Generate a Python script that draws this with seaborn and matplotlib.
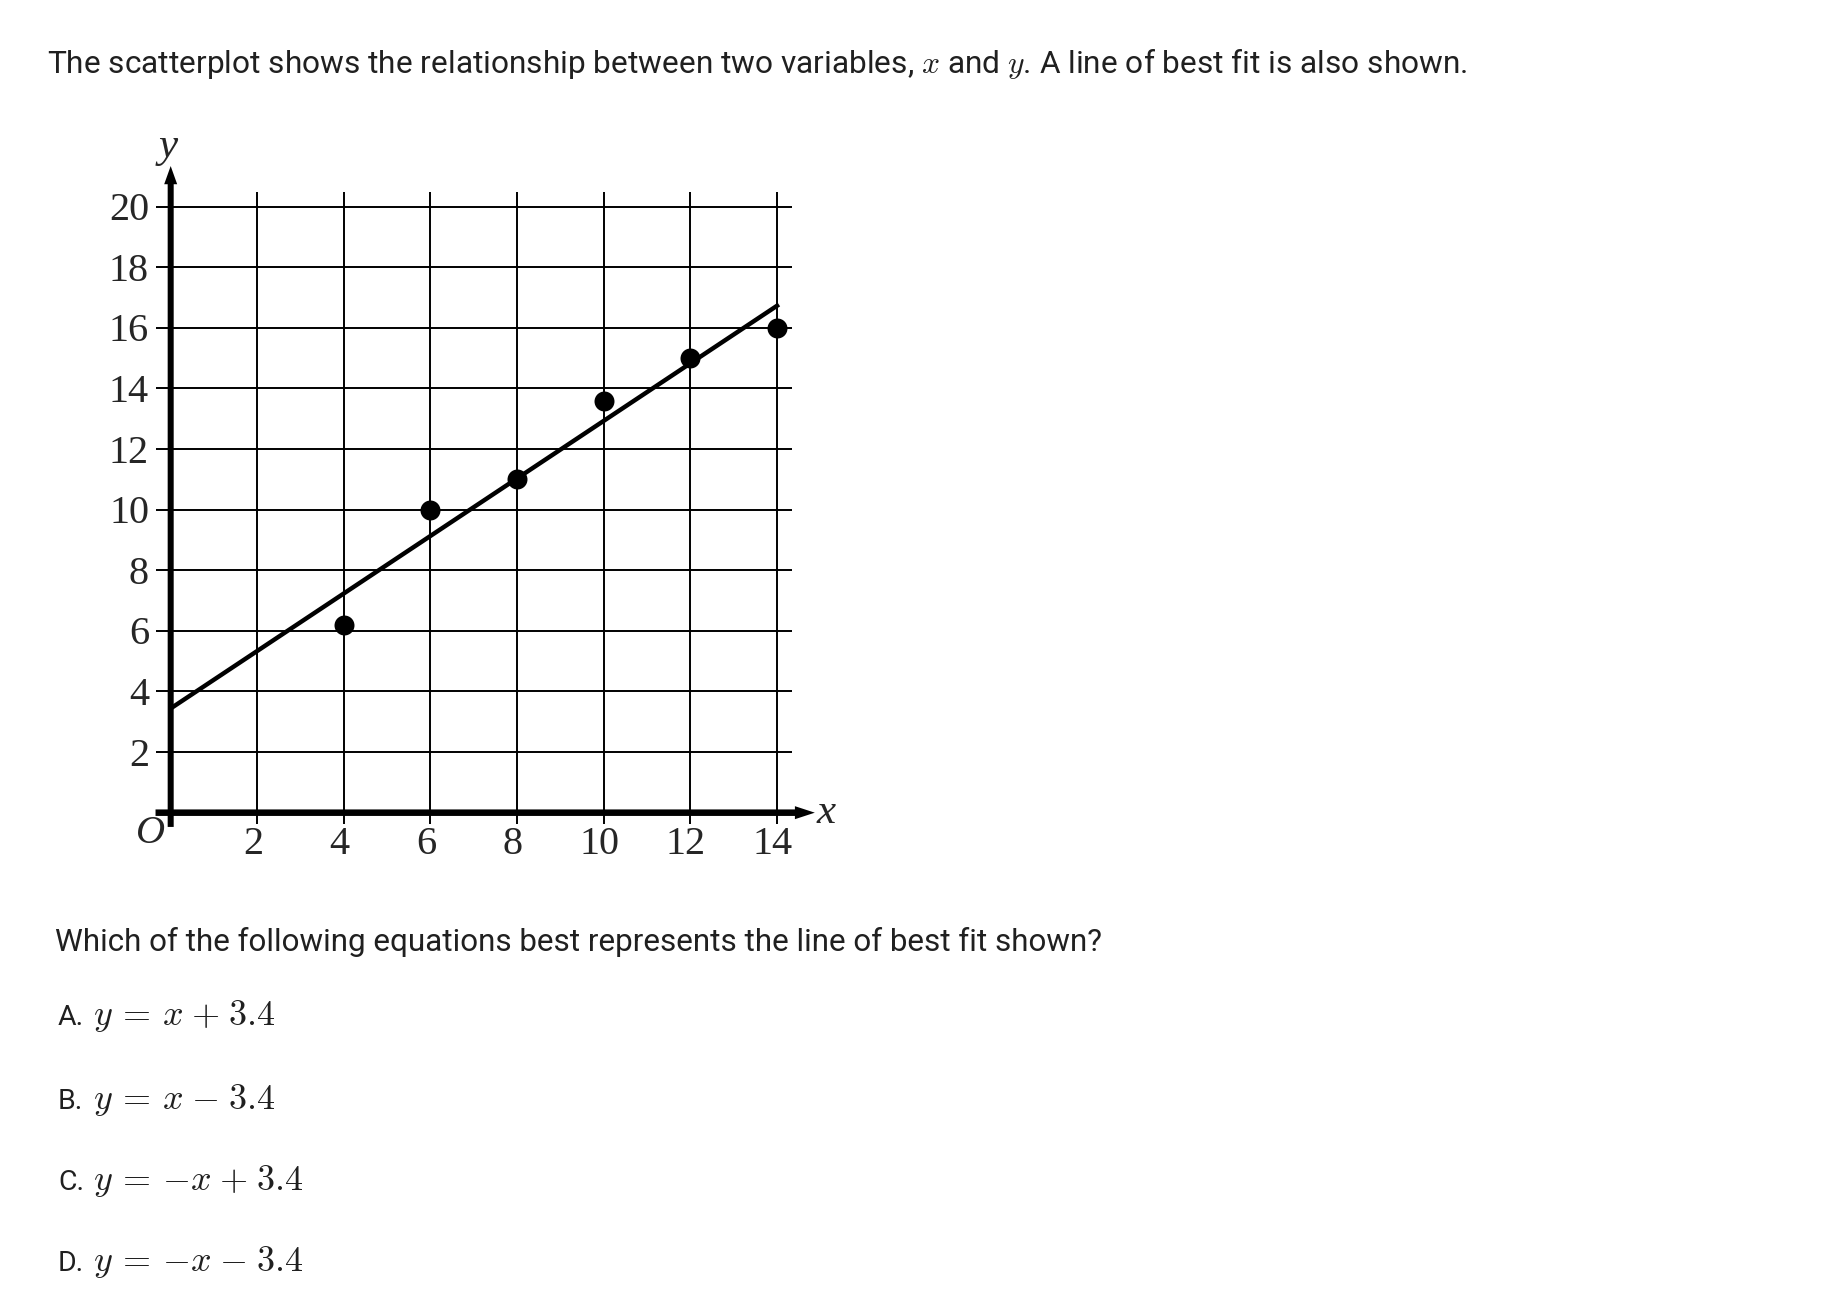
import numpy as np
import pandas as pd
import seaborn as sns
import matplotlib.pyplot as plt

# data
x_pts = [4, 6, 8, 10, 12, 14]
y_pts = [6.2, 10, 11, 13.6, 15, 16]

# line of best fit as drawn (its two ends)
fit_x = [0, 14.05]
fit_y = [3.44, 16.77]

x_ticks = [2, 4, 6, 8, 10, 12, 14]
y_ticks = [2, 4, 6, 8, 10, 12, 14, 16, 18, 20]

title = ('The scatterplot shows the relationship between two variables, '
         '$x$ and $y$. A line of best fit is also shown.')
question = 'Which of the following equations best represents the line of best fit shown?'
opt_letters = ['A.', 'B.', 'C.', 'D.']
# braces keep mathtext from adding its own operator spacing
opt_math = [r'$y\,{=}\,x\;{+}\;3.4$', r'$y\,{=}\,x\;{-}\;3.4$',
            r'$y\,{=}\,{-}x\;{+}\;3.4$', r'$y\,{=}\,{-}x\;{-}\;3.4$']

sns.set_theme(style='white')
plt.rcParams['font.family'] = ['Roboto', 'DejaVu Sans']
plt.rcParams['mathtext.fontset'] = 'cm'

W, H = 1836, 1304
fig = plt.figure(figsize=(W / 100, H / 100), dpi=100)
fig.patch.set_facecolor('white')

# axes placed so that data 0..14 / 0..20 land where they are in the picture
ax = fig.add_axes([0.04581, 0.3303, 0.4244, 0.5577])
ax.set_xlim(-2, 16)
ax.set_ylim(-2, 22)
ax.axis('off')

# grid lines (they also make the tick marks)
ax.hlines(y_ticks, -0.34, 14.36, color='black', lw=1.4)
ax.vlines(x_ticks, -0.37, 20.5, color='black', lw=1.4)

# axes with arrow heads
ax.arrow(0, -0.47, 0, 21.81, width=0.139, head_width=0.30, head_length=0.6,
         length_includes_head=True, color='black', lw=0)
ax.arrow(-0.35, 0, 15.23, 0, width=0.215, head_width=0.43, head_length=0.46,
         length_includes_head=True, color='black', lw=0)

# fit line and points
sns.lineplot(x=fit_x, y=fit_y, ax=ax, color='black', lw=3.2,
             solid_capstyle='butt', zorder=4)
sns.scatterplot(x=x_pts, y=y_pts, ax=ax, color='black', s=207,
                linewidth=0, zorder=5)

serif = ['Liberation Serif', 'DejaVu Serif']
for t in y_ticks:
    ax.text(-0.5, t - 0.445, str(t), ha='right', va='baseline',
            fontsize=29, family=serif)
for t in x_ticks:
    ax.text(t - 0.1, -1.36, str(t), ha='center', va='baseline',
            fontsize=29, family=serif)
ax.text(-0.13, -1.0, 'O', ha='right', va='baseline', fontsize=29,
        family=serif, style='italic')
ax.text(14.92, -0.34, 'x', ha='left', va='baseline', fontsize=31,
        family=serif, style='italic')
ax.text(-0.05, 21.64, 'y', ha='center', va='baseline', fontsize=31,
        family=serif, style='italic')

# texts around the chart
fig.text(47 / W, 1 - 73 / H, title, fontsize=22.8, va='baseline',
         color='#202020')
fig.text(55 / W, 1 - 951 / H, question, fontsize=22.6, va='baseline',
         color='#202020')
opt_base = [1025, 1109, 1190, 1271]
for letter, eq, b in zip(opt_letters, opt_math, opt_base):
    fig.text(58 / W, 1 - b / H, letter, fontsize=20.5, va='baseline',
             color='#202020')
    fig.text(93 / W, 1 - b / H, eq, fontsize=26, va='baseline',
             color='#202020')

fig.savefig('out.png', dpi=100, facecolor='white')
